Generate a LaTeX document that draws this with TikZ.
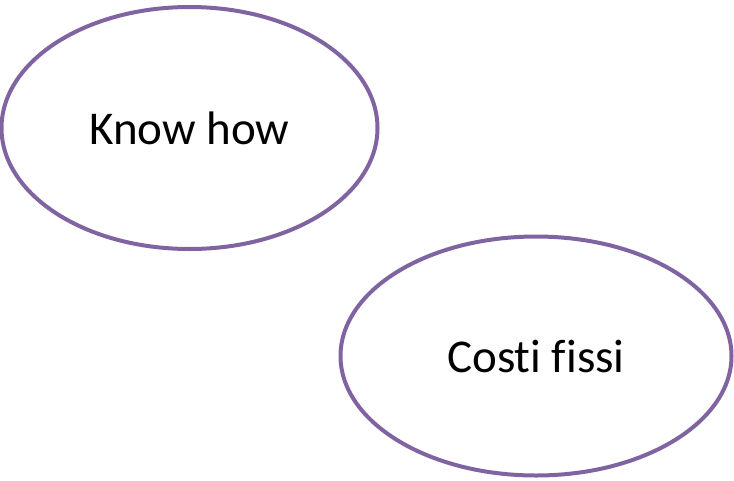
\documentclass[tikz,border=0pt]{standalone}
\usepackage{fontspec}
\setmainfont[Ligatures=NoCommon]{Carlito}
\usepackage{tikz}
\usetikzlibrary{shapes.geometric}
\definecolor{lpurple}{HTML}{8064A2}
\tikzstyle{bubble}=[ellipse,draw=lpurple,fill=white,line width=4pt,inner sep=0pt,font=\fontsize{47}{54}\selectfont]
\begin{document}
\begin{tikzpicture}[x=1pt,y=-1pt]
	\useasboundingbox (0,0) rectangle (734,480);
	\node [style=bubble,minimum width=376pt,minimum height=242pt] (knowhow) at (189.5,128) {Know how};
	\node [style=bubble,minimum width=391pt,minimum height=239pt] (costi) at (536,356) {Costi fissi};
\end{tikzpicture}
\end{document}
